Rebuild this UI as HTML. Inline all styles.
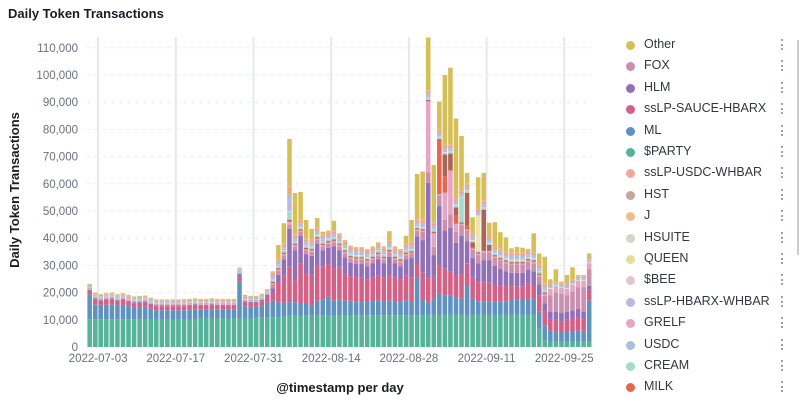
<!DOCTYPE html>
<html><head><meta charset="utf-8"><style>
html,body{margin:0;padding:0;background:#fff;}
body{width:800px;height:403px;overflow:hidden;position:relative;font-family:"Liberation Sans",sans-serif;}
.title{position:absolute;left:8px;top:6px;font-size:13px;font-weight:bold;color:#1a1c21;}
.leg{position:absolute;left:626px;font-size:12.5px;color:#343741;}
.dot{position:absolute;left:0;top:4px;width:9px;height:9px;border-radius:50%;}
.lt{position:absolute;left:18px;top:0;white-space:nowrap;}
.act{position:absolute;left:155px;top:2px;width:3px;height:11px;border-left:2px dotted #98a2b3;}
</style></head><body>
<div class="title">Daily Token Transactions</div>
<svg id="chart" width="800" height="403" style="position:absolute;left:0;top:0"></svg>
<div id="legend"></div>
<div style="position:absolute;left:797px;top:40px;width:2px;height:215px;background:#c9ccd3"></div>
<script>
const days = [];
for (let i = 0; i < 91; i++) { const d = new Date(Date.UTC(2022,6,1+i)); days.push(d.toISOString().slice(0,10)); }
const tickLabels = ["2022-07-03","2022-07-17","2022-07-31","2022-08-14","2022-08-28","2022-09-11","2022-09-25"];
const yTicks = [0,10000,20000,30000,40000,50000,60000,70000,80000,90000,100000,110000];
const totals = [22.8,19.2,18.8,19.0,19.3,18.6,19.0,17.8,17.6,17.8,
18.0,17.5,16.8,17.0,16.6,17.0,17.3,17.6,17.5,16.8,
17.5,16.5,17.5,17.0,17.3,17.3,17.3,28.3,19.2,18.8,
18.6,19.6,21.0,27.0,37.5,45.5,76.5,56.6,57.0,46.7,
43.4,47.4,42.4,41.9,46.4,40.5,35.6,35.0,34.3,35.5,
31.4,33.8,36.3,35.6,42.6,35.0,34.3,40.9,46.7,63.6,
64.5,113.8,66.9,90.2,100.0,102.7,84.0,77.6,64.0,47.7,
62.4,64.0,45.7,45.9,42.2,40.3,36.3,36.8,36.5,35.6,
41.8,34.4,33.2,24.9,28.6,23.2,26.5,29.3,25.8,26.5,34.4];
const party = [10.2,10.2,10.2,10.2,10.2,10.2,10.2,10.2,10.2,10.2,
10.3,10.3,10.3,10.3,10.3,10.3,10.3,10.3,10.3,10.3,
10.5,10.5,10.5,10.5,10.5,10.5,10.5,10.5,10.5,10.5,
10.8,10.8,10.8,11,11,11.2,11.5,11.5,11.3,11.5,
11.5,11.5,11.5,11.5,11.5,11.5,11.5,11.5,11.5,11.5,
11.7,11.7,11.7,11.7,11.7,11.7,11.7,11.7,11.7,11.7,
11.8,11.8,11.8,11.8,11.8,11.8,11.8,11.8,11.8,11.8,
11.8,11.8,11.8,11.8,11.8,11.8,11.8,11.8,11.8,11.8,
11.8,7,2.5,2,2,2,2,2,2,2,2];
const ml = [9,5.5,5.3,5.3,5.5,5.2,5.3,5,4.3,4.5,
4.5,3.8,3.2,3.2,3.2,3.2,3.2,3.2,3.4,3.6,
3.2,3.2,3.4,3.2,3.2,3.2,3.2,13.5,4.5,4.3,
4,4.5,5.5,6,5.5,5,5,5,4.5,4.5,
4,5.5,6,7,5.5,6,5.5,5.5,5,5,
5,5,5.5,5,5.5,5,5,5.5,5,14,
5.5,4.5,6,8,7,7,6.5,6,11,6,
5,5,5,5,5,5,5.5,5.5,5.5,5.5,
6,6,5.5,4,3.5,3.5,3.5,3.5,4,4,15];
const sauce = [1.5,1.8,1.5,1.8,1.8,1.5,1.8,1.5,1.6,1.6,
1.6,1.5,1.5,1.5,1.5,1.5,1.5,1.5,1.5,1.5,
1.5,1.5,1.5,1.5,1.5,1.5,1.5,1.8,1.5,1.5,
1.5,1.5,2,3,7,10,13,8,15,11,
11,13,12,12,12,12,10,9,9,9,
8,9,9,9,9,9,8,9,9,5,
10,9,8,10,10,9,8,9,8,8,
7,7,7,6,6,6,5,5,5,6,
5,6,5,4,4.5,4,4.5,5,5,4,4];
const hlm = [0.3,0.3,0.3,0.3,0.3,0.3,0.3,0.3,0.3,0.3,
0.3,0.3,0.3,0.3,0.3,0.3,0.3,0.3,0.3,0.3,
0.3,0.3,0.3,0.3,0.3,0.3,0.3,1,0.3,0.3,
0.3,0.5,0.8,1.5,3,6,14,11,10,7,
7,8,6,6,8,6,6,5,5,5,
5,5,6,5,7,5,5,6,7,10,
12,35,8,22,14,16,12,14,8,7,
7,8,8,7,6,5,5,5,5,5,
5,4,3,3,3,3,3,3,3,3,1.5];
const fox = [0.2,0.2,0.2,0.2,0.2,0.2,0.2,0.2,0.2,0.2,
0.2,0.2,0.2,0.2,0.2,0.2,0.2,0.2,0.2,0.2,
0.2,0.2,0.2,0.2,0.2,0.2,0.2,0.2,0.2,0.2,
0.2,0.2,0.2,1.5,1.5,1.5,1.5,1.5,1.5,1.5,
1.5,1.5,1.5,1.5,1.5,1.5,1.5,1.5,1.5,1.5,
1.5,1.5,1.5,1.5,1.5,1.5,1.5,1.5,1.5,2,
3,4,3,4,4,5,4,4,4,3,
3,3,3,3,3,3,3,3,3,3,
3,3,3,6,7,7,6,7,8,9,6];
const grelf = [0.2,0.2,0.2,0.2,0.2,0.2,0.2,0.2,0.2,0.2,
0.2,0.2,0.2,0.2,0.2,0.2,0.2,0.2,0.2,0.2,
0.2,0.2,0.2,0.2,0.2,0.2,0.2,0.2,0.2,0.2,
0.2,0.2,0.2,0.4,0.4,0.4,1,0.4,0.4,0.4,
0.4,0.4,0.4,0.4,0.4,0.4,0.4,0.4,0.4,0.4,
0.4,0.4,0.4,0.4,0.4,0.4,0.4,0.4,0.4,0.4,
0.4,26,5,0.4,10,16,3,0.4,0.4,0.4,
0.4,0.4,0.4,0.4,0.4,0.4,0.4,0.4,0.4,0.4,
0.4,0.4,0.4,2,2,2,2,2,2,2,2];
const milk = [0,0,0,0,0,0,0,0,0,0,
0,0,0,0,0,0,0,0,0,0,
0,0,0,0,0,0,0,0,0,0,
0,0,0,0.3,0.3,0.3,0.5,0.3,0.3,0.3,
0.3,0.3,0.3,0.3,0.3,0.3,0.3,0.3,0.3,0.3,
0.3,0.3,0.3,0.3,0.3,0.3,0.3,0.3,0.3,0.3,
0.3,0.3,0.3,20,6,0.3,3,0.3,1.5,0.3,
0.3,0.3,0.3,0.3,0.3,0.3,0.3,0.3,0.3,0.3,
0.3,0.3,0.3,0,0,0,0,0,0,0,0];
const hst = [0.1,0.1,0.1,0.1,0.1,0.1,0.1,0.1,0.1,0.1,
0.1,0.1,0.1,0.1,0.1,0.1,0.1,0.1,0.1,0.1,
0.1,0.1,0.1,0.1,0.1,0.1,0.1,0.1,0.1,0.1,
0.1,0.1,0.1,0.3,0.3,0.3,0.3,0.3,0.3,0.3,
0.3,0.3,0.3,0.3,0.3,0.3,0.3,0.3,0.3,0.3,
0.3,0.3,0.3,0.3,0.3,0.3,0.3,0.3,0.3,0.3,
0.3,0.3,0.3,0.3,8,6,3,0.3,12,2,
0.3,15,2,0.3,0.3,0.3,0.3,0.3,0.3,0.3,
0.3,0.3,0.3,0.1,0.1,0.1,0.1,0.1,0.1,0.1,0.1];
const cream = [0.3,0.3,0.3,0.3,0.3,0.3,0.3,0.3,0.3,0.3,
0.3,0.3,0.3,0.3,0.3,0.3,0.3,0.3,0.3,0.3,
0.3,0.3,0.3,0.3,0.3,0.3,0.3,0.5,0.3,0.3,
0.3,0.3,0.3,0.6,0.6,0.6,3,0.6,0.6,0.6,
0.6,0.6,0.6,0.6,0.6,0.6,0.6,0.6,0.6,0.6,
0.6,0.6,0.6,0.6,0.6,0.6,0.6,0.6,0.6,0.6,
0.6,0.6,0.6,0.6,0.6,0.6,0.6,9,0.6,0.6,
0.6,0.6,0.6,0.6,0.6,0.6,0.6,0.6,0.6,0.6,
0.6,0.6,0.6,0.3,0.3,0.3,0.3,0.3,0.3,0.3,0.3];
const queen = [0,0,0,0,0,0,0,0,0,0,
0,0,0,0,0,0,0,0,0,0,
0,0,0,0,0,0,0,0,0,0,
0,0,0,0.2,0.2,0.2,0.2,0.2,0.2,0.2,
0.2,0.2,0.2,0.2,0.2,0.2,0.2,0.2,0.2,0.2,
0.2,0.2,0.2,0.2,0.2,0.2,0.2,0.2,0.2,0.2,
0.2,0.2,0.2,0.2,0.2,0.2,0.2,0.2,0.2,0.2,
13,0.2,0.2,0.2,0.2,0.2,0.2,0.2,0.2,0.2,
0.2,0.2,0.2,0.2,0.2,0.2,0.2,0.2,0.2,0.2,0.2];
const lav = [0.2,0.2,0.2,0.2,0.2,0.2,0.2,0.2,0.2,0.2,
0.2,0.2,0.2,0.2,0.2,0.2,0.2,0.2,0.2,0.2,
0.2,0.2,0.2,0.2,0.2,0.2,0.2,0.2,0.2,0.2,
0.2,0.2,0.2,0.6,0.6,0.6,4,0.6,0.6,0.6,
0.6,0.6,0.6,0.6,0.6,0.6,0.6,0.6,0.6,0.6,
0.6,0.6,0.6,0.6,0.6,0.6,0.6,0.6,0.6,0.6,
0.6,0.6,0.6,0.6,0.6,0.6,0.6,0.6,0.6,0.6,
0.6,0.6,0.6,0.6,0.6,0.6,0.6,0.6,0.6,0.6,
0.6,0.6,0.6,0.3,0.3,0.3,0.3,0.3,0.3,0.3,0.3];
const usdc = [0.4,0.4,0.4,0.4,0.4,0.4,0.4,0.4,0.4,0.4,
0.4,0.4,0.4,0.4,0.4,0.4,0.4,0.4,0.4,0.4,
0.4,0.4,0.4,0.4,0.4,0.4,0.4,0.4,0.4,0.4,
0.4,0.4,0.4,0.8,0.8,0.8,2,0.8,0.8,0.8,
0.8,0.8,0.8,0.8,0.8,0.8,0.8,0.8,0.8,0.8,
0.8,0.8,0.8,0.8,0.8,0.8,0.8,0.8,0.8,0.8,
0.8,0.8,0.8,0.8,0.8,0.8,0.8,0.8,0.8,0.8,
0.8,0.8,0.8,0.8,0.8,0.8,0.8,0.8,0.8,0.8,
0.8,0.8,0.8,0.5,0.5,0.5,0.5,0.5,0.5,0.5,0.5];
const jtok = [0.2,0.2,0.2,0.2,0.2,0.2,0.2,0.2,0.2,0.2,
0.2,0.2,0.2,0.2,0.2,0.2,0.2,0.2,0.2,0.2,
0.2,0.2,0.2,0.2,0.2,0.2,0.2,0.2,0.2,0.2,
0.2,0.2,0.2,0.7,0.7,0.7,2.5,0.7,0.7,0.7,
0.7,0.7,0.7,0.7,0.7,0.7,0.7,0.7,0.7,0.7,
0.7,0.7,0.7,0.7,0.7,0.7,0.7,0.7,0.7,0.7,
0.7,0.7,0.7,0.7,0.7,0.7,0.7,0.7,0.7,0.7,
0.7,0.7,0.7,0.7,0.7,0.7,0.7,0.7,0.7,0.7,
0.7,0.7,0.7,0.4,0.4,0.4,0.4,0.4,0.4,0.4,0.4];
const salmon = [0.3,0.3,0.3,0.3,0.3,0.3,0.3,0.3,0.3,0.3,
0.3,0.3,0.3,0.3,0.3,0.3,0.3,0.3,0.3,0.3,
0.3,0.3,0.3,0.3,0.3,0.3,0.3,0.3,0.3,0.3,
0.3,0.3,0.3,0.6,0.6,0.6,0.6,0.6,0.6,0.6,
0.6,0.6,0.6,0.6,0.6,0.6,0.6,0.6,0.6,0.6,
0.6,0.6,0.6,0.6,0.6,0.6,0.6,0.6,0.6,0.6,
0.6,0.6,0.6,0.6,0.6,0.6,0.6,0.6,0.6,0.6,
0.6,0.6,0.6,0.6,0.6,0.6,0.6,0.6,0.6,0.6,
0.6,0.6,0.6,0.4,0.4,0.4,0.4,0.4,0.4,0.4,0.4];
const legendNames = ["Other","FOX","HLM","ssLP-SAUCE-HBARX","ML","$PARTY","ssLP-USDC-WHBAR","HST","J","HSUITE","QUEEN","$BEE","ssLP-HBARX-WHBAR","GRELF","USDC","CREAM","MILK"];
const legendColors = ["#d6bf57","#ca8eae","#9170b8","#d36086","#6092c0","#54b399","#f1a99a","#c9a49c","#f2bb8f","#d5d6c6","#e6dd9c","#e9c3d2","#c1b6e0","#e7a5c4","#a8c1e0","#a6dac8","#e7664c"];

const svg = document.getElementById('chart');
const NS = 'http://www.w3.org/2000/svg';
const X0 = 87, DW = 5.55, Y0 = 347, PXK = 2.72;
const xScale = i => X0 + i * DW;
const yScale = v => Y0 - (v / 1000) * PXK * 1 * 1;
function mk(tag, attrs, parent) {
  const e = document.createElementNS(NS, tag);
  for (const k in attrs) e.setAttribute(k, attrs[k]);
  (parent || svg).appendChild(e);
  return e;
}
// grid
yTicks.forEach(t => {
  if (t > 0) {
    const g = mk('line', {x1: X0, x2: 592, y1: yScale(t), y2: yScale(t), stroke: '#e9ebef', 'stroke-dasharray': '4,4', 'stroke-width': 1});
    
    
  }
  const tl = mk('text', {x: 78, y: yScale(t) + 4, 'text-anchor': 'end', 'font-size': 11.5, fill: '#69707d', 'font-family': 'Liberation Sans, sans-serif'});
  tl.textContent = t.toLocaleString('en-US');
  
  
});
tickLabels.forEach(lbl => {
  const i = days.indexOf(lbl);
  const x = xScale(i);
  const gl = mk('line', {x1: x, x2: x, y1: 37, y2: Y0, stroke: '#e6e8ec', 'stroke-width': 2});
  
  
  const t = mk('text', {x: x, y: 362, 'text-anchor': 'middle', 'font-size': 11.5, fill: '#69707d', 'font-family': 'Liberation Sans, sans-serif'});
  t.textContent = lbl;
  
  
});
// stacking
const stack = [
  ["$PARTY", party, "#54b399"], ["ML", ml, "#6092c0"], ["ssLP-SAUCE-HBARX", sauce, "#d36086"],
  ["HLM", hlm, "#9170b8"], ["FOX", fox, "#ca8eae"], ["GRELF", grelf, "#e7a5c4"],
  ["MILK", milk, "#e7664c"], ["HST", hst, "#aa6556"], ["CREAM", cream, "#a6dac8"],
  ["QUEEN", queen, "#ece3b0"], ["ssLP-HBARX-WHBAR", lav, "#c1b6e0"], ["USDC", usdc, "#a8c1e0"],
  ["J", jtok, "#f2a66b"], ["ssLP-USDC-WHBAR", salmon, "#f1a99a"]
];
const bars = mk('g', {});


for (let i = 0; i < days.length; i++) {
  let cum = 0;
  const x = xScale(i) + 0.4, w = DW - 1;
  const segs = stack.map(s => [s[0], s[1][i], s[2]]);
  let sum = segs.reduce((a, s) => a + s[1], 0);
  segs.push(["Other", Math.max(0.3, totals[i] - sum), "#d6bf57"]);
  segs.forEach(s => {
    const v = s[1] * 1000;
    if (v <= 0) return;
    const y1 = yScale(cum), y2 = yScale(cum + v);
    const r = mk('rect', {x: x, y: Math.max(37, y2), width: w, height: Math.max(0, y1 - Math.max(37, y2)), fill: s[2]}, bars);
    
    
    cum += v;
  });
}
// axis titles
const yt = mk('text', {x: 0, y: 0, transform: 'translate(19,190) rotate(-90)', 'text-anchor': 'middle', 'font-size': 13, 'font-weight': 'bold', fill: '#1a1c21', 'font-family': 'Liberation Sans, sans-serif'});
yt.textContent = 'Daily Token Transactions';


const xt = mk('text', {x: 340, y: 392, 'text-anchor': 'middle', 'font-size': 13, 'font-weight': 'bold', fill: '#1a1c21', 'font-family': 'Liberation Sans, sans-serif'});
xt.textContent = '@timestamp per day';


// legend
const leg = document.getElementById('legend');
legendNames.forEach((n, k) => {
  const row = document.createElement('div');
  row.className = 'leg';
  row.style.top = (37 + k * 21.4) + 'px';
  row.style.width = '170px';
  row.style.height = '18px';
  
  
  const d = document.createElement('span');
  d.className = 'dot';
  d.style.background = legendColors[k];
  
  
  const t = document.createElement('span');
  t.className = 'lt';
  t.textContent = n;
  
  
  const a = document.createElement('span');
  a.className = 'act';
  
  
  row.appendChild(d); row.appendChild(t); row.appendChild(a);
  leg.appendChild(row);
});
</script>
</body></html>
